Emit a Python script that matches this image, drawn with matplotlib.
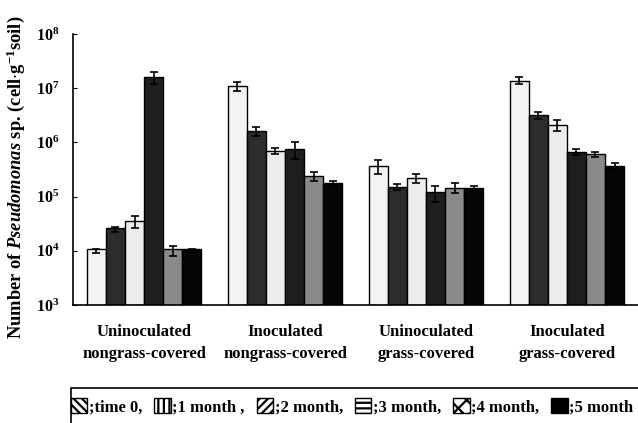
import matplotlib
matplotlib.use("Agg")
import matplotlib.pyplot as plt
from matplotlib.patches import Patch, Rectangle
import numpy as np

# treatments along the x axis
groups = ["Uninoculated\nnongrass-covered", "Inoculated\nnongrass-covered",
          "Uninoculated\ngrass-covered", "Inoculated\ngrass-covered"]
times = [";time 0,", ";1 month ,", ";2 month,", ";3 month,", ";4 month,", ";5 month"]

# cell counts (cell/g soil), one row per sampling time, columns follow groups
counts = [
    [1.0e4, 1.1e7, 3.7e5, 1.38e7],   # time 0
    [2.5e4, 1.6e6, 1.5e5, 3.2e6],    # 1 month
    [3.5e4, 7.0e5, 2.2e5, 2.1e6],    # 2 month
    [1.6e7, 7.5e5, 1.2e5, 6.7e5],    # 3 month
    [1.0e4, 2.4e5, 1.45e5, 6.0e5],   # 4 month
    [1.0e4, 1.8e5, 1.4e5, 3.6e5],    # 5 month
]
errors = [
    [0.1e4, 2.0e6, 1.1e5, 2.0e6],
    [0.25e4, 0.3e6, 0.2e5, 0.5e6],
    [0.9e4, 0.8e5, 0.4e5, 0.5e6],
    [4.0e6, 2.5e5, 0.4e5, 0.8e5],
    [0.2e4, 0.5e5, 0.3e5, 0.7e5],
    [0.07e4, 0.15e5, 0.15e5, 0.5e5],
]

FILLS = ["#f3f3f3", "#2c2c2c", "#ececec", "#1e1e1e", "#8a8a8a", "#050505"]
KEY_HATCH = ["\\\\\\\\", "|||", "////", "---", "xx", ""]
KEY_FILL = ["white", "white", "white", "white", "white", "black"]

plt.rcParams.update({
    "font.family": "serif",
    "font.serif": ["Liberation Serif", "DejaVu Serif"],
    "font.weight": "bold",
    "axes.labelweight": "bold",
    "mathtext.fontset": "custom",
    "mathtext.rm": "Liberation Serif:bold",
    "mathtext.bf": "Liberation Serif:bold",
    "mathtext.it": "Liberation Serif:bold:italic",
    "hatch.linewidth": 1.6,
})

fig = plt.figure(figsize=(6.38, 4.23), dpi=100)
ax = fig.add_axes([0.1144, 0.279, 0.8856, 0.6407])

x = np.arange(len(groups))
w = 0.135
for i in range(len(times)):
    pos = x + (i - 2.5) * w
    ax.bar(pos, counts[i], width=w, bottom=1e3, color=FILLS[i],
           edgecolor="black", linewidth=1.0, zorder=2)
    ax.errorbar(pos, counts[i], yerr=errors[i], fmt="none", ecolor="black",
                elinewidth=1.2, capsize=3, capthick=1.2, zorder=3)

ax.set_yscale("log")
ax.set_ylim(1e3, 1e8)
ax.set_xlim(-0.504, 3.504)
ax.set_xticks(x)
ax.set_xticklabels(groups, fontsize=12, linespacing=1.5)
ax.tick_params(axis="x", length=0, pad=14)
ax.tick_params(axis="y", which="major", direction="in", length=3,
               labelsize=11.5, pad=10)
ax.tick_params(axis="y", which="minor", length=0)
ax.spines["top"].set_visible(False)
ax.spines["right"].set_visible(False)
ax.spines["left"].set_linewidth(1.2)
ax.spines["bottom"].set_linewidth(1.2)

ax.set_ylabel(r"Number of $\mathit{Pseudomonas}$ sp. (cell$\cdot$g$^{-1}$soil)",
              fontsize=13.3)
ax.yaxis.set_label_coords(-0.082, 0.47)

handles = [Patch(facecolor=KEY_FILL[i], edgecolor="black", hatch=KEY_HATCH[i],
                 linewidth=1.0) for i in range(len(times))]
fig.legend(handles, times, loc="center", bbox_to_anchor=(0.552, 0.038),
           ncol=6, frameon=False, fontsize=12, handlelength=1.0,
           handleheight=1.0, handletextpad=0.1, columnspacing=0.7,
           borderaxespad=0)
fig.patches.append(Rectangle((0.111, -0.05), 0.95, 0.133,
                             transform=fig.transFigure, fill=False,
                             edgecolor="black", linewidth=1.2))

fig.savefig("out.png", dpi=100)
